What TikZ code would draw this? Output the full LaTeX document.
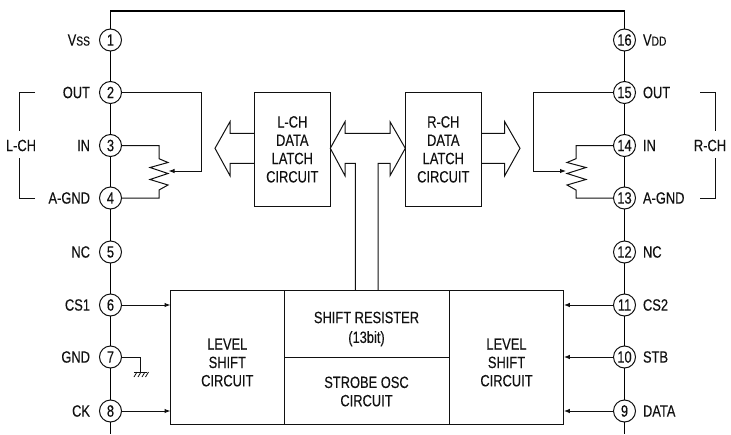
\documentclass[tikz,border=0pt]{standalone}
\usepackage{fontspec}
\setmainfont[FakeStretch=0.79,FakeBold=0.25]{Liberation Sans}
\usetikzlibrary{arrows.meta,calc}
\newcommand{\lblfont}{\fontsize{16.3}{18.3}\selectfont}
\newcommand{\smfont}{\fontsize{13}{14}\selectfont}
\definecolor{ink}{HTML}{111111}
\tikzset{
  x=1pt,y=-1pt,
  every node/.style={text=ink,font=\lblfont,inner sep=0pt,outer sep=0pt},
  pinc/.style={circle,draw=ink,fill=white,line width=1pt,minimum size=22pt},
  spine/.style={draw=black,line width=1.8pt},
  wire/.style={draw=ink,line width=1pt},
  sig/.style={wire,-{Latex[length=6pt,width=4.5pt]}},
  blk/.style={draw=ink,line width=1pt,align=center,anchor=north west},
  txt/.style={align=center},
  pl/.style={anchor=east},
  pr/.style={anchor=west},
}
\begin{document}
\begin{tikzpicture}
\useasboundingbox (0,0) rectangle (731,434);
% pins
\coordinate (tl) at (110.5,11);
\coordinate (tr) at (624.5,11);
\coordinate (bl) at (110.5,434);
\coordinate (br) at (624.5,434);
\node[pinc] (p1) at (110.5,40) {1};
\node[pinc] (p2) at (110.5,92.5) {2};
\node[pinc] (p3) at (110.5,145.5) {3};
\node[pinc] (p4) at (110.5,198) {4};
\node[pinc] (p5) at (110.5,252) {5};
\node[pinc] (p6) at (110.5,305) {6};
\node[pinc] (p7) at (110.5,357) {7};
\node[pinc] (p8) at (110.5,411) {8};
\node[pinc] (p16) at (624.5,40) {16};
\node[pinc] (p15) at (624.5,92.5) {15};
\node[pinc] (p14) at (624.5,145.5) {14};
\node[pinc] (p13) at (624.5,198) {13};
\node[pinc] (p12) at (624.5,252) {12};
\node[pinc] (p11) at (624.5,305) {11};
\node[pinc] (p10) at (624.5,357) {10};
\node[pinc] (p9) at (624.5,411) {9};
% spine
\path[spine] (p1) -- (tl) -- (tr) -- (p16);
\path[spine] (p1) -- (p2) -- (p3) -- (p4) -- (p5) -- (p6) -- (p7) -- (p8) -- (bl);
\path[spine] (p16) -- (p15) -- (p14) -- (p13) -- (p12) -- (p11) -- (p10) -- (p9) -- (br);
% pin labels
\node[pl] (l1) at (90,40) {V\smfont SS};
\node[pl] (l2) at (90,92.5) {OUT};
\node[pl] (l3) at (90,145.5) {IN};
\node[pl] (l4) at (90,198) {A-GND};
\node[pl] (l5) at (90,252) {NC};
\node[pl] (l6) at (90,305) {CS1};
\node[pl] (l7) at (90,357) {GND};
\node[pl] (l8) at (90,411) {CK};
\node[pr] (l16) at (643,40) {V\smfont DD};
\node[pr] (l15) at (643,92.5) {OUT};
\node[pr] (l14) at (643,145.5) {IN};
\node[pr] (l13) at (643,198) {A-GND};
\node[pr] (l12) at (643,252) {NC};
\node[pr] (l11) at (643,305) {CS2};
\node[pr] (l10) at (643,357) {STB};
\node[pr] (l9) at (643,411) {DATA};
% brackets
\node (lch) at (21,145.5) {L-CH};
\node (rch) at (710,145.5) {R-CH};
\coordinate (lbt) at (35,92.5);
\coordinate (lbb) at (35,198);
\coordinate (rbt) at (700,92.5);
\coordinate (rbb) at (700,198);
\coordinate (lbu) at (19.5,131);
\coordinate (lbd) at (19.5,158);
\coordinate (rbu) at (715.5,131);
\coordinate (rbd) at (715.5,158);
\draw[wire] (lbt) -| (lbu);
\draw[wire] (lbb) -| (lbd);
\draw[wire] (rbt) -| (rbu);
\draw[wire] (rbb) -| (rbd);
% blocks
\node[blk,minimum width=76pt,minimum height=113.3pt] (ll) at (254.3,92.7) {L-CH\\DATA\\LATCH\\CIRCUIT};
\node[blk,minimum width=76pt,minimum height=113.3pt] (rl) at (405.3,92.7) {R-CH\\DATA\\LATCH\\CIRCUIT};
\node[blk,minimum width=113.5pt,minimum height=134pt] (lsl) at (170.5,290) {};
\node[blk,minimum width=114.5pt,minimum height=134pt] (lsr) at (449.3,290) {};
\node[blk,minimum width=165pt,minimum height=67pt] (sr) at (284,290) {};
\node[blk,minimum width=165pt,minimum height=67pt] (osc) at (284,357) {};
\node[txt] (lslt) at (227.3,362.5) {LEVEL\\SHIFT\\CIRCUIT};
\node[txt] (lsrt) at (506.5,362.5) {LEVEL\\SHIFT\\CIRCUIT};
\node[txt] (srt) at (366.5,329) {SHIFT RESISTER\\[1.5pt](13bit)};
\node[txt] (osct) at (366.5,391.5) {STROBE OSC\\CIRCUIT};
% hollow arrows
\draw[wire,line join=miter] (ll.west |- 0,133.3) -- (230,133.3) -- (230,121.7) -- (215,148.3) -- (230,175.7) -- (230,163.3) -- (ll.west |- 0,163.3);
\draw[wire,line join=miter] (rl.east |- 0,133.3) -- (504.7,133.3) -- (504.7,121.7) -- (520,148.3) -- (504.7,175.7) -- (504.7,163.3) -- (rl.east |- 0,163.3);
\draw[wire,line join=miter] (355.3,290) -- (355.3,163.3) -- (345,163.3) -- (345,175.7) -- (ll.east |- 0,148.3) -- (345,121.7) -- (345,133.3) -- (390,133.3) -- (390,121.7) -- (rl.west |- 0,148.3) -- (390,175.7) -- (390,163.3) -- (378,163.3) -- (378,290);
% L pot
\coordinate (lw) at (168.5,171);
\coordinate (rw) at (566,171);
\draw[wire] (p3) -- (159,145.5) -- (159,158.7) -- (168,162.5) -- (150,167.5) -- (168,173.5) -- (150,179.5) -- (168,185) -- (159,190) -- (159,198) -- (p4);
\draw[sig] (p2) -- (201.7,92.5) -- (201.7,171) -- (lw);
% R pot
\draw[wire] (p14) -- (576,145.5) -- (576,158.7) -- (567,162.5) -- (586,167.5) -- (567,173.5) -- (586,179.5) -- (567,185) -- (576,190) -- (576,198) -- (p13);
\draw[sig] (p15) -- (533.3,92.5) -- (533.3,171) -- (rw);
% inputs
\draw[sig] (p6) -- (p6 -| lsl.west);
\draw[sig] (p8) -- (p8 -| lsl.west);
\draw[sig] (p11) -- (p11 -| lsr.east);
\draw[sig] (p10) -- (p10 -| lsr.east);
\draw[sig] (p9) -- (p9 -| lsr.east);
% ground
\coordinate (g) at (140.7,372);
\draw[wire] (p7) -| (g);
\draw[wire] (134,372) -- (146.7,372);
\foreach \gx in {137,141,145,148.5}{
  \draw[draw=ink,line width=0.8pt] (\gx,372) -- (\gx-3,377);
}
\end{tikzpicture}
\end{document}
